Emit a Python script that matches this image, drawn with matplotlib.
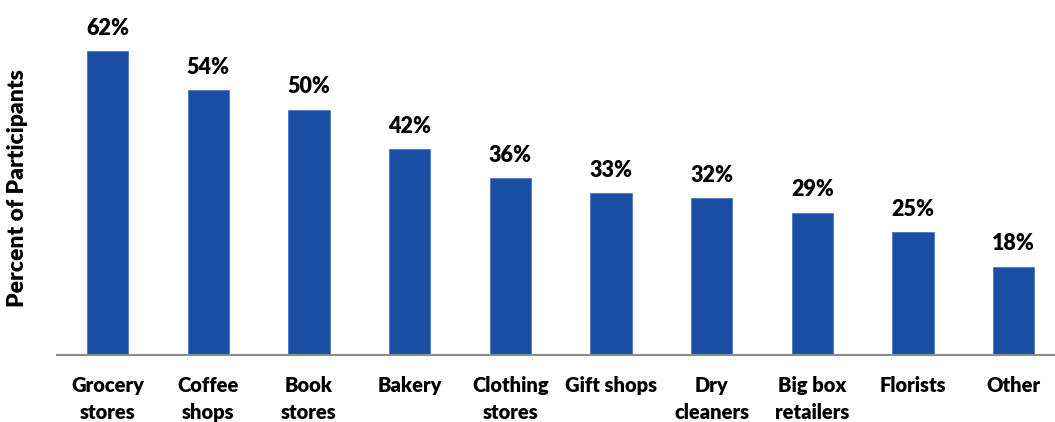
import matplotlib.pyplot as plt

categories = ["Grocery\nstores", "Coffee\nshops", "Book\nstores", "Bakery", "Clothing\nstores",
              "Gift shops", "Dry\ncleaners", "Big box\nretailers", "Florists", "Other"]
percents = [62, 54, 50, 42, 36, 33, 32, 29, 25, 18]

plt.rcParams['font.family'] = ['Lato', 'DejaVu Sans']

fig = plt.figure(figsize=(10.55, 4.22), dpi=100)
ax = fig.add_axes([57 / 1055, 0.159, 998 / 1055, 0.813])

x = range(len(categories))
bars = ax.bar(x, percents, width=0.41, color='#1b4fa6', edgecolor='#4a78c4', linewidth=0.6)
for xi, val in zip(x, percents):
    ax.annotate(f'{val}%', xy=(xi, val), xytext=(0, 9), textcoords='offset points',
                ha='center', va='bottom', fontsize=15.5, fontweight='heavy')

ax.set_xlim(-0.502, 9.41)
ax.set_ylim(0, 70)
ax.set_xticks(list(x))
ax.set_xticklabels(categories, fontsize=14.5, fontweight='heavy', linespacing=1.5, va='top')
ax.tick_params(axis='x', length=0, pad=15)
ax.set_yticks([])
for side in ['top', 'right', 'left']:
    ax.spines[side].set_visible(False)
ax.spines['bottom'].set_color('#8c8c8c')
ax.spines['bottom'].set_linewidth(1.5)

fig.text(18 / 1055, 1 - 188 / 422, 'Percent of Participants', rotation=90, ha='center', va='center',
         fontsize=16.5, fontweight='heavy')

fig.savefig('out.png', dpi=100)
